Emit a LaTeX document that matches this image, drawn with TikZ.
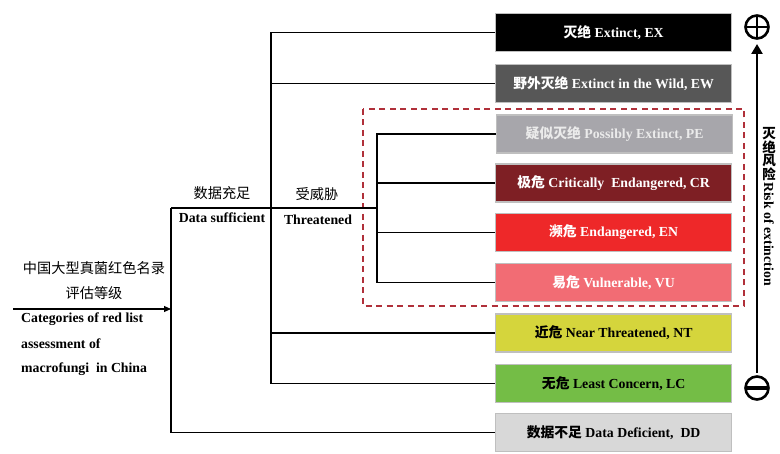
\documentclass[tikz,border=0pt]{standalone}
\usepackage{fontspec}
\setmainfont{Liberation Serif}
\newfontfamily\cjk{Noto Sans CJK SC}
\usetikzlibrary{arrows.meta}
\definecolor{cEX}{HTML}{000000}
\definecolor{cEW}{HTML}{575757}
\definecolor{cPE}{HTML}{A7A6AB}
\definecolor{cCR}{HTML}{7E1F24}
\definecolor{cEN}{HTML}{EE2829}
\definecolor{cVU}{HTML}{F26C74}
\definecolor{cNT}{HTML}{D5D53C}
\definecolor{cLC}{HTML}{74BD46}
\definecolor{cDD}{HTML}{D8D8D8}
\definecolor{dashred}{HTML}{B0303A}
\begin{document}
\begin{tikzpicture}[x=1pt,y=-1pt,
  cat/.style={draw=black!25, line width=1.3pt, minimum width=236pt, minimum height=38pt,
    inner sep=0pt, font=\fontsize{13.8}{15}\selectfont\bfseries, anchor=west},
  conn/.style={line width=1.1pt},
  lbl/.style={font=\fontsize{13.8}{15}\selectfont\bfseries, inner sep=0pt},
  cjklbl/.style={font=\fontsize{14.2}{16}\selectfont\cjk, inner sep=0pt},
  sym/.style={circle, draw, line width=2.6pt, minimum size=23pt, inner sep=0pt, outer sep=0pt}
]
\path[fill=white] (0,0) rectangle (780,454);

% category boxes
\node[cat, fill=cEX, text=white] (EX) at (495,32.5) {{\cjk 灭绝} Extinct, EX};
\node[cat, fill=cEW, text=white] (EW) at (495,83.5) {{\cjk 野外灭绝} Extinct in the Wild, EW};
\node[cat, fill=cPE, text=white!92!black] (PE) at (496,134) {{\cjk 疑似灭绝} Possibly Extinct, PE};
\node[cat, fill=cCR, text=white] (CR) at (495,183) {{\cjk 极危} Critically\ \ Endangered, CR};
\node[cat, fill=cEN, text=white] (EN) at (495,232.5) {{\cjk 濒危} Endangered, EN};
\node[cat, fill=cVU, text=white] (VU) at (495,282.5) {{\cjk 易危} Vulnerable, VU};
\node[cat, fill=cNT, text=black] (NT) at (495,333) {{\cjk 近危} Near Threatened, NT};
\node[cat, fill=cLC, text=black] (LC) at (495,383.5) {{\cjk 无危} Least Concern, LC};
\node[cat, fill=cDD, text=black] (DD) at (495,432.5) {{\cjk 数据不足} Data\ Deficient,\ \ DD};

% dashed threatened frame
\coordinate (fr1) at (363,109);
\coordinate (fr2) at (744,306);
\draw[dashred, line width=1.6pt, dash pattern=on 6pt off 4.5pt] (fr1) rectangle (fr2);

% tree
\coordinate (start) at (13,309);
\coordinate (j1) at (171,309);
\coordinate (j1top) at (171,208);
\coordinate (j1bot) at (171,432.5);
\coordinate (j2) at (271,208);
\coordinate (j3) at (377,208);

\draw[conn, -{Triangle[length=7pt,width=6pt]}] (start) -- (j1);
\draw[conn] (j1top) -- (j1bot) -- (DD.west);
\draw[conn] (j1top) -- (j2) -- (j3);
\draw[conn] (EX.west) -| (j2) |- (LC.west);
\draw[conn] (EW.west) -- (EW.west -| j2);
\draw[conn] (NT.west) -- (NT.west -| j2);
\draw[conn] (PE.west) -| (j3) |- (VU.west);
\draw[conn] (CR.west) -- (CR.west -| j3);
\draw[conn] (EN.west) -- (EN.west -| j3);

% labels
\node[cjklbl] (dscn) at (222,193) {数据充足};
\node[lbl] (dsen) at (222,218) {Data sufficient};
\node[cjklbl] (thcn) at (317,194) {受威胁};
\node[lbl] (then) at (318,220) {Threatened};
\node[cjklbl] (cat1) at (94,268) {中国大型真菌红色名录};
\node[cjklbl] (cat2) at (94,293) {评估等级};
\node[lbl, anchor=west] (en1) at (21,319) {Categories of red list};
\node[lbl, anchor=west] (en2) at (21,344) {assessment of};
\node[lbl, anchor=west] (en3) at (21,369) {macrofungi\ \ in China};

% risk axis
\node[sym] (plus) at (757,27) {};
\draw[line width=2.6pt] (plus.north) -- (plus.south);
\draw[line width=2.6pt] (plus.west) -- (plus.east);
\node[sym] (minus) at (757,388) {};
\draw[line width=4pt] (minus.west) -- (minus.east);
\coordinate (axb) at (757,373);
\coordinate (axt) at (757,44);
\draw[line width=2.6pt, -{Triangle[length=10pt,width=11pt]}] (axb) -- (axt);
\node[font=\fontsize{13.5}{13.8}\selectfont\cjk\bfseries, align=center, inner sep=0pt, anchor=north] (riskcn) at (769,127) {灭\\绝\\风\\险};
\node[lbl, rotate=-90, anchor=west] (risken) at (769,182) {Risk of extinction};
\end{tikzpicture}
\end{document}
